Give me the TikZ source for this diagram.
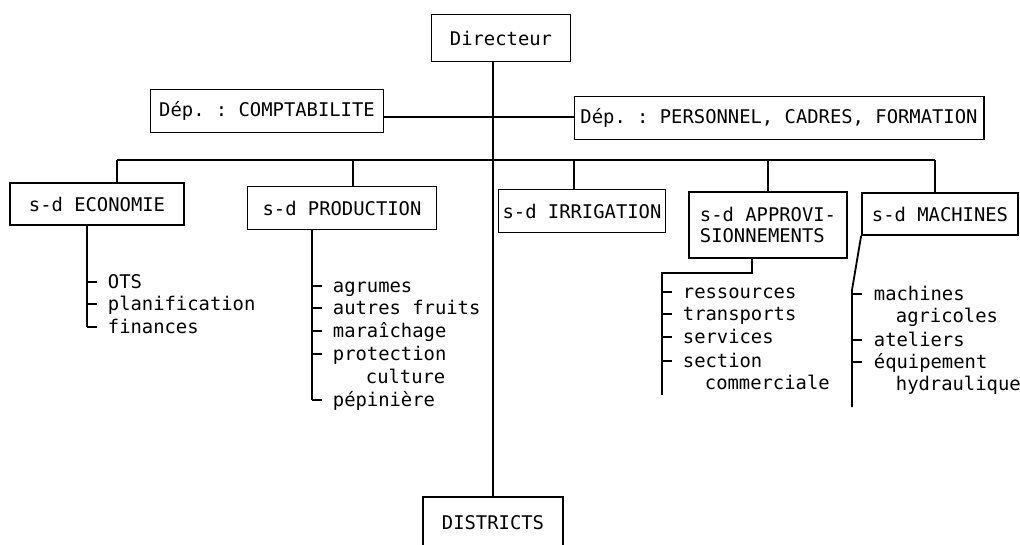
\documentclass[tikz,border=0pt]{standalone}
\usepackage{fontspec}
\setmonofont{DejaVu Sans Mono}

\tikzset{
  unit/.style={draw, line width=1.2pt, inner sep=0pt, minimum height=1.08cm,
    font=\ttfamily\fontsize{13.4}{15.6}\selectfont},
  item/.style={anchor=base west, inner sep=0pt,
    font=\ttfamily\fontsize{13.4}{15.6}\selectfont},
}

\begin{document}
\begin{tikzpicture}[x=0.025cm, y=-0.025cm, line width=1.3pt]
\useasboundingbox (0,0) rectangle (1020,545);

\node[unit, minimum width=3.48cm, minimum height=1.18cm] (dir) at (501,38) {Directeur};
\node[unit, minimum width=5.83cm] (compta) at (267,111) {Dép. : COMPTABILITE};
\node[unit, minimum width=10.23cm] (perso) at (779,118) {Dép. : PERSONNEL, CADRES, FORMATION};

\node[unit, minimum width=4.35cm, minimum height=1.05cm] (eco) at (97,204) {s-d ECONOMIE};
\node[unit, minimum width=4.73cm] (prod) at (342,208) {s-d PRODUCTION};
\node[unit, minimum width=4.18cm] (irr) at (582,211) {s-d IRRIGATION};
\node[unit, minimum width=3.95cm, minimum height=1.65cm, align=left] (appro) at (768,225) {s-d APPROVI-\\SIONNEMENTS};
\node[unit, minimum width=3.9cm, minimum height=1.05cm] (mach) at (940,214) {s-d MACHINES};

\node[unit, minimum width=3.5cm, minimum height=1.3cm] (dist) at (493,523) {DISTRICTS};

\draw (dir.south -| dist.north) -- (dist.north);

\coordinate (staff) at (493,117);
\draw (compta.east |- staff) -- (perso.west |- staff);

\coordinate (busL) at (117,160);
\coordinate (busR) at (935,160);
\draw (busL) -- (busR);
\foreach \n/\x in {eco/117, prod/353, irr/574, appro/768, mach/935} {
  \coordinate (\n-drop) at (\x,160);
  \draw (\n-drop) -- (\n-drop |- \n.north);
}

% s-d ECONOMIE
\foreach \y/\t [count=\i] in {288/OTS, 310/planification, 333/finances} {
  \node[item] (eco-\i) at (107,\y) {\t};
  \coordinate (eco-tick-\i) at (87,{\y-6});
  \draw (eco-tick-\i) -- ++(10,0);
}
\draw (eco.south -| eco-tick-1) -- (eco-tick-3);

% s-d PRODUCTION
\foreach \x/\y/\t [count=\i] in {332/292/agrumes, 332/314/autres fruits, 332/337/maraîchage,
    332/360/protection, 365/383/culture, 332/406/pépinière}
  \node[item] (prod-\i) at (\x,\y) {\t};
\foreach \y in {286,308,331,354,400} \draw (312,\y) -- ++(10,0);
\coordinate (prod-end) at (312,400);
\draw (prod.south -| prod-end) -- (prod-end);

% s-d APPROVISIONNEMENTS
\foreach \x/\y/\t [count=\i] in {682/298/ressources, 682/320/transports, 682/343/services,
    682/367/section, 704/389/commerciale}
  \node[item] (appro-\i) at (\x,\y) {\t};
\foreach \y in {292,314,337,361} \draw (662,\y) -- ++(10,0);
\coordinate (appro-knee) at (752,273);
\draw (appro.south -| appro-knee) -- (appro-knee) -- (662,273) -- (662,395);

% s-d MACHINES
\foreach \x/\y/\t [count=\i] in {873/300/machines, 895/322/agricoles, 873/346/ateliers,
    873/368/équipement, 895/390/hydraulique}
  \node[item] (mach-\i) at (\x,\y) {\t};
\foreach \y in {294,340,362} \draw (852,\y) -- ++(10,0);
\draw (mach.south west) -- (852,290) -- (852,407);

\end{tikzpicture}
\end{document}
